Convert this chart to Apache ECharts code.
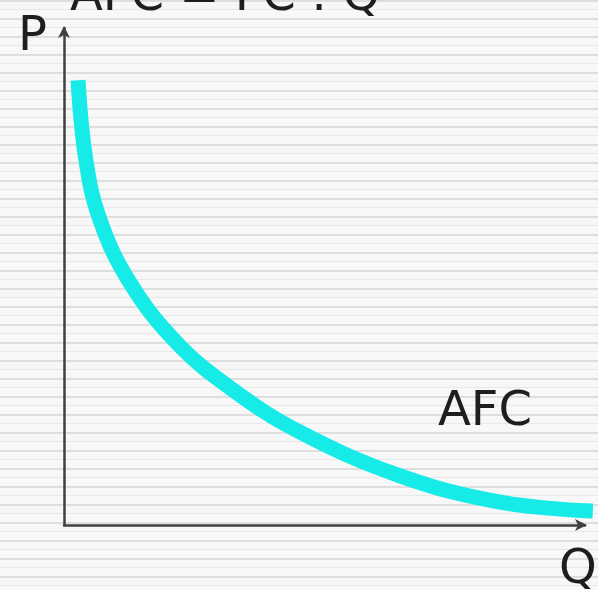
<!DOCTYPE html>
<html>
<head>
<meta charset="utf-8">
<script src="https://cdn.jsdelivr.net/npm/echarts@6/dist/echarts.min.js"></script>
<style>
  html, body { margin: 0; padding: 0; }
  body {
    width: 598px; height: 590px; overflow: hidden;
    background: repeating-linear-gradient(180deg,
      #dcdcdc 0px, #e0e0e0 2px, #f7f7f7 2px, #f7f7f7 9px,
      #e8e8e8 9px, #e8e8e8 10px, #f8f8f8 10px, #f8f8f8 18px);
  }
  #chart { width: 598px; height: 590px; }
</style>
</head>
<body>
<div id="chart"></div>
<script>
// Data (Q on the horizontal axis, AFC on the vertical axis)
const titleText = 'AFC = FC : Q';
const yAxisLabel = 'P';
const xAxisLabel = 'Q';
const curveLabel = 'AFC';
const qValues   = [0.27, 0.42, 0.69, 1.27, 2.17, 3.24, 4.53, 6.45, 8.37, 10.15];
const afcValues = [8.95, 7.34, 6.14, 4.87, 3.66, 2.72, 1.87, 0.99, 0.46, 0.28];

const chart = echarts.init(document.getElementById('chart'), null, { renderer: 'canvas' });
const textColor = '#1e1e1e';
const font = 'DejaVu Sans';

chart.setOption({
  backgroundColor: 'transparent',
  animation: false,
  title: {
    text: titleText,
    left: 70,
    top: -26,
    padding: 0,
    textStyle: { fontFamily: font, fontSize: 48, fontWeight: 'normal', color: textColor }
  },
  grid: { left: 64, right: 13, top: 28, bottom: 65, containLabel: false },
  xAxis: {
    type: 'value', min: 0, max: 10,
    axisLine: { show: true, symbol: ['none', 'arrow'], symbolSize: [9, 12], symbolOffset: [0, 2],
      lineStyle: { color: '#404040', width: 2.5 } },
    axisTick: { show: false }, axisLabel: { show: false }, splitLine: { show: false }
  },
  yAxis: {
    type: 'value', min: 0, max: 10,
    axisLine: { show: true, symbol: ['none', 'arrow'], symbolSize: [9, 12], symbolOffset: [0, 2],
      lineStyle: { color: '#404040', width: 2.5 } },
    axisTick: { show: false }, axisLabel: { show: false }, splitLine: { show: false }
  },
  series: [{
    type: 'line',
    name: curveLabel,
    data: qValues.map((q, i) => [q, afcValues[i]]),
    smooth: 0.4,
    showSymbol: false,
    clip: false,
    lineStyle: { color: '#17ebe8', width: 15, cap: 'butt' }
  }],
  graphic: [
    { type: 'text', left: 18, top: 14,
      style: { text: yAxisLabel, font: '48px "DejaVu Sans"', fill: textColor } },
    { type: 'text', left: 438, top: 389,
      style: { text: curveLabel, font: '48px "DejaVu Sans"', fill: textColor } },
    { type: 'text', left: 559, top: 547,
      style: { text: xAxisLabel, font: '48px "DejaVu Sans"', fill: textColor } }
  ]
});
</script>
</body>
</html>
